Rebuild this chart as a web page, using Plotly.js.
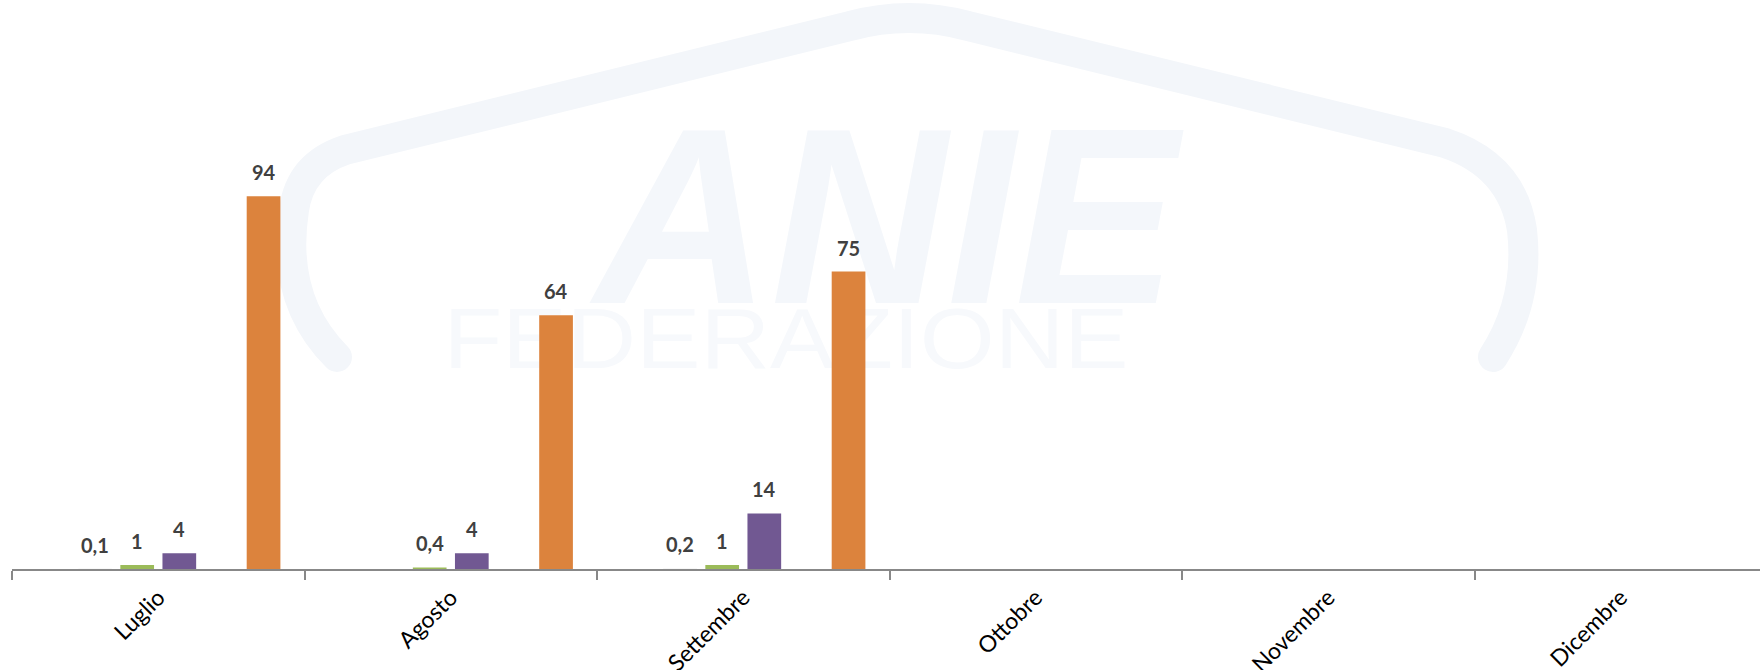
<!DOCTYPE html>
<html><head><meta charset="utf-8">
<script src="https://cdn.plot.ly/plotly-3.0.1.min.js"></script>
<style>html,body{margin:0;padding:0;overflow:hidden;background:#fff}#chart{width:1767px;height:670px}</style>
</head><body><div id="chart"></div>
<script>
// ---- data ----
const categories = ['Luglio', 'Agosto', 'Settembre', 'Ottobre', 'Novembre', 'Dicembre'];
const serie1 = [0, 0, 0, 0, 0, 0];                 // empty series (no values)
const serie2 = [0.1, null, 0.2, null, null, null];
const serie3 = [1, 0.4, 1, null, null, null];
const serie4 = [4, 4, 14, null, null, null];
const serie5 = [0, 0, 0, 0, 0, 0];                 // empty series (no values)
const serie6 = [94, 64, 75, null, null, null];

const seriesList = [
  {name: 'Serie 1', values: serie1, color: '#4F81BD', label: false},
  {name: 'Serie 2', values: serie2, color: '#F4F4F4', label: true},
  {name: 'Serie 3', values: serie3, color: '#9BBB59', label: true},
  {name: 'Serie 4', values: serie4, color: '#715892', label: true},
  {name: 'Serie 5', values: serie5, color: '#4BACC6', label: false},
  {name: 'Serie 6', values: serie6, color: '#DC833D', label: true}
];

// ---- layout constants ----
const W = 1767, H = 670, L = 12, R = 0, T = 20, B = 101;
const plotH = H - T - B;
const pxPerUnit = 3.966;
const yMax = plotH / pxPerUnit;
const bargap = 0.136;
const nSlots = seriesList.length;
const slotW = (1 - bargap) / nSlots;

function fmt(v) { return String(v).replace('.', ','); }

const traces = seriesList.map(s => ({
  type: 'bar', name: s.name, x: categories, y: s.values,
  marker: {color: s.color, line: {width: 0}},
  hoverinfo: 'skip'
}));

const annotations = [];
seriesList.forEach((s, k) => {
  if (!s.label) return;
  s.values.forEach((v, i) => {
    if (v === null || v === undefined) return;
    annotations.push({
      x: i + (k - (nSlots - 1) / 2) * slotW, y: v, xref: 'x', yref: 'y',
      text: fmt(v), showarrow: false, yanchor: 'middle', yshift: 24,
      font: {family: 'Lato', size: 20, color: '#404040', weight: 'bold'}
    });
  });
});

// watermark (decorative background logo)
const wm = `<svg xmlns="http://www.w3.org/2000/svg" width="${W}" height="${H}" viewBox="0 0 ${W} ${H}">
<path d="M337,357 Q280,300 294,210 Q300,165 345,150 L850,26 Q909,10 968,26 L1445,143 Q1512,165 1522,230 Q1530,300 1493,357" fill="none" stroke="#F3F6FA" stroke-width="30" stroke-linecap="round"/>
<text x="886" y="303" text-anchor="middle" font-family="Liberation Sans" font-weight="bold" font-style="italic" font-size="250" fill="#F4F7FB" textLength="583" lengthAdjust="spacingAndGlyphs">ANIE</text>
<text x="786" y="368" text-anchor="middle" font-family="Liberation Sans" font-size="86" fill="#F7F9FC" textLength="685" lengthAdjust="spacingAndGlyphs">FEDERAZIONE</text>
</svg>`;
const wmURI = 'data:image/svg+xml;charset=utf-8,' + encodeURIComponent(wm);
const pw = W - L - R;

const layout = {
  width: W, height: H,
  margin: {l: L, r: R, t: T, b: B, pad: 0},
  paper_bgcolor: '#ffffff', plot_bgcolor: 'rgba(0,0,0,0)',
  barmode: 'group', bargap: bargap, bargroupgap: 0.2,
  showlegend: false,
  xaxis: {
    type: 'category', showline: true, linecolor: '#888888', linewidth: 2,
    ticks: 'outside', tickson: 'boundaries', ticklen: 9, tickwidth: 2, tickcolor: '#888888',
    tickangle: -45, tickfont: {family: 'Lato', size: 23, color: '#000000'},
    ticklabelstandoff: 4,
    showgrid: false, zeroline: false, fixedrange: true
  },
  yaxis: {
    range: [0, yMax], showgrid: false, zeroline: false, showline: false,
    showticklabels: false, ticks: '', fixedrange: true
  },
  annotations: annotations,
  images: [{
    source: wmURI, xref: 'paper', yref: 'paper',
    x: -L / pw, y: 1 + T / plotH, sizex: W / pw, sizey: H / plotH,
    xanchor: 'left', yanchor: 'top', sizing: 'stretch', layer: 'below'
  }]
};

Plotly.newPlot('chart', traces, layout, {displayModeBar: false, staticPlot: true});
</script>
</body></html>
